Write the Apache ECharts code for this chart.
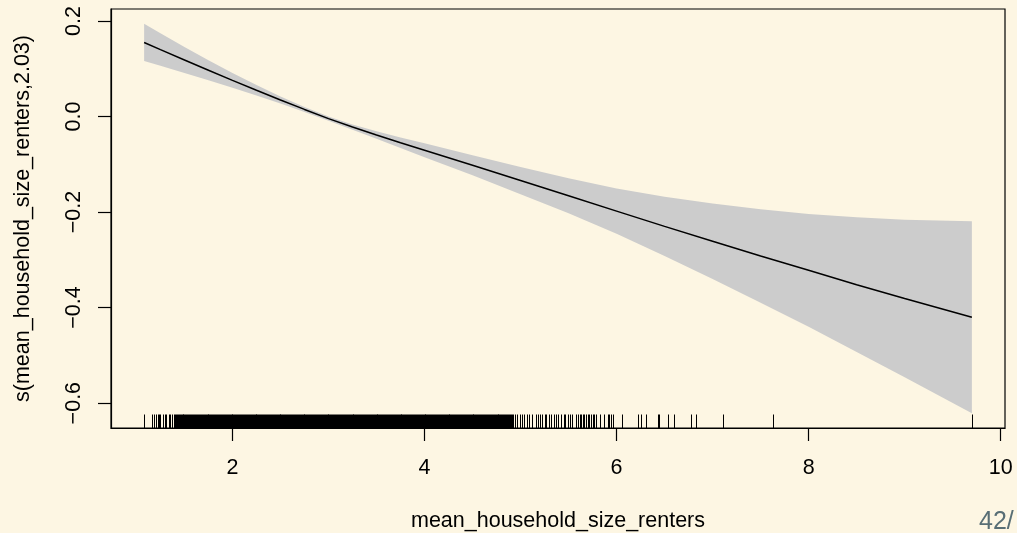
<!DOCTYPE html>
<html>
<head>
<meta charset="utf-8">
<title>mean_household_size_renters smooth</title>
<script src="https://cdn.jsdelivr.net/npm/echarts@6/dist/echarts.min.js"></script>
<style>
  html, body { margin: 0; padding: 0; background: #fdf6e3; }
  #chart { width: 1017px; height: 533px; }
</style>
</head>
<body>
<div id="chart"></div>
<script>
// Smooth term s(mean_household_size_renters, 2.03): estimate and +/- 2 SE band
const xGrid = [1.08, 1.25, 1.5, 1.75, 2.0, 2.25, 2.5, 2.75, 3.0, 3.25, 3.5, 3.75, 4.0, 4.5, 5.0, 5.5, 6.0, 6.5, 7.0, 7.5, 8.0, 8.5, 9.0, 9.7];
const fit   = [0.155, 0.140, 0.1183, 0.0968, 0.0755, 0.0548, 0.0345, 0.0148, -0.0045, -0.022, -0.0388, -0.055, -0.0707, -0.102, -0.134, -0.166, -0.198, -0.230, -0.261, -0.292, -0.322, -0.352, -0.381, -0.420];
const upper = [0.194, 0.174, 0.1453, 0.1178, 0.091, 0.0658, 0.042, 0.0201, 0.0, -0.0165, -0.031, -0.044, -0.0562, -0.081, -0.1055, -0.1295, -0.1505, -0.168, -0.182, -0.194, -0.204, -0.211, -0.216, -0.219];
const lower = [0.116, 0.106, 0.0913, 0.0758, 0.060, 0.0438, 0.027, 0.0095, -0.009, -0.0275, -0.0466, -0.066, -0.0852, -0.123, -0.1625, -0.2025, -0.2455, -0.292, -0.340, -0.390, -0.440, -0.493, -0.546, -0.621];

// Observed covariate values shown as a rug along the bottom
const rugLow = [1.08, 1.16, 1.18, 1.20, 1.22, 1.24, 1.25, 1.28, 1.30, 1.31, 1.34, 1.35, 1.37, 1.39];
const rugDense = [
  1.40,1.41,1.42,1.43,1.44,1.45,1.46,1.47,1.48,1.49,
  1.50,1.51,1.52,1.53,1.54,1.55,1.56,1.57,1.58,1.59,
  1.60,1.61,1.62,1.63,1.64,1.65,1.66,1.67,1.68,1.69,
  1.70,1.71,1.72,1.73,1.74,1.75,1.76,1.77,1.78,1.79,
  1.80,1.81,1.82,1.83,1.84,1.85,1.86,1.87,1.88,1.89,
  1.90,1.91,1.92,1.93,1.94,1.95,1.96,1.97,1.98,1.99,
  2.00,2.01,2.02,2.03,2.04,2.05,2.06,2.07,2.08,2.09,
  2.10,2.11,2.12,2.13,2.14,2.15,2.16,2.17,2.18,2.19,
  2.20,2.21,2.22,2.23,2.24,2.25,2.26,2.27,2.28,2.29,
  2.30,2.31,2.32,2.33,2.34,2.35,2.36,2.37,2.38,2.39,
  2.40,2.41,2.42,2.43,2.44,2.45,2.46,2.47,2.48,2.49,
  2.50,2.51,2.52,2.53,2.54,2.55,2.56,2.57,2.58,2.59,
  2.60,2.61,2.62,2.63,2.64,2.65,2.66,2.67,2.68,2.69,
  2.70,2.71,2.72,2.73,2.74,2.75,2.76,2.77,2.78,2.79,
  2.80,2.81,2.82,2.83,2.84,2.85,2.86,2.87,2.88,2.89,
  2.90,2.91,2.92,2.93,2.94,2.95,2.96,2.97,2.98,2.99,
  3.00,3.01,3.02,3.03,3.04,3.05,3.06,3.07,3.08,3.09,
  3.10,3.11,3.12,3.13,3.14,3.15,3.16,3.17,3.18,3.19,
  3.20,3.21,3.22,3.23,3.24,3.25,3.26,3.27,3.28,3.29,
  3.30,3.31,3.32,3.33,3.34,3.35,3.36,3.37,3.38,3.39,
  3.40,3.41,3.42,3.43,3.44,3.45,3.46,3.47,3.48,3.49,
  3.50,3.51,3.52,3.53,3.54,3.55,3.56,3.57,3.58,3.59,
  3.60,3.61,3.62,3.63,3.64,3.65,3.66,3.67,3.68,3.69,
  3.70,3.71,3.72,3.73,3.74,3.75,3.76,3.77,3.78,3.79,
  3.80,3.81,3.82,3.83,3.84,3.85,3.86,3.87,3.88,3.89,
  3.90,3.91,3.92,3.93,3.94,3.95,3.96,3.97,3.98,3.99,
  4.00,4.01,4.02,4.03,4.04,4.05,4.06,4.07,4.08,4.09,
  4.10,4.11,4.12,4.13,4.14,4.15,4.16,4.17,4.18,4.19,
  4.20,4.21,4.22,4.23,4.24,4.25,4.26,4.27,4.28,4.29,
  4.30,4.31,4.32,4.33,4.34,4.35,4.36,4.37,4.38,4.39,
  4.40,4.41,4.42,4.43,4.44,4.45,4.46,4.47,4.48,4.49,
  4.50,4.51,4.52,4.53,4.54,4.55,4.56,4.57,4.58,4.59,
  4.60,4.61,4.62,4.63,4.64,4.65,4.66,4.67,4.68,4.69,
  4.70,4.71,4.72,4.73,4.74,4.75,4.76,4.77,4.78,4.79,
  4.80,4.81,4.82,4.83,4.84,4.85,4.86,4.87,4.88,4.89,
  4.90,4.91,4.92
];
const rugHigh = [
  4.94, 4.96, 4.99, 5.01, 5.04, 5.07, 5.09, 5.12, 5.16, 5.18, 5.20, 5.22, 5.25, 5.27,
  5.30, 5.32, 5.35, 5.37, 5.39, 5.42, 5.45, 5.46, 5.49, 5.52, 5.54, 5.58,
  5.60, 5.62, 5.63, 5.65, 5.66, 5.68, 5.70, 5.71, 5.73, 5.75, 5.77, 5.79,
  5.83, 5.87, 5.91, 5.92, 5.94, 5.96, 6.06, 6.22, 6.25, 6.31, 6.43, 6.44,
  6.54, 6.60, 6.78, 6.83, 7.11, 7.63, 9.70
];

// Axis tick positions and their printed labels
const xTicks = [2, 4, 6, 8, 10];
const xTickLabels = ['2', '4', '6', '8', '10'];
const yTicks = [-0.6, -0.4, -0.2, 0.0, 0.2];
const yTickLabels = ['\u22120.6', '\u22120.4', '\u22120.2', '0.0', '0.2'];

const xRange = [0.735, 10.045];
const yRange = [-0.652, 0.225];

const FONT = '"Liberation Sans", Arial, Helvetica, sans-serif';
const TXT = 21.5;

function labelFor(ticks, labels) {
  return function (v) {
    for (let i = 0; i < ticks.length; i++) {
      if (Math.abs(ticks[i] - v) < 1e-9) return labels[i];
    }
    return '';
  };
}

const chart = echarts.init(document.getElementById('chart'), null, { renderer: 'canvas' });

const axisCommon = {
  type: 'value',
  nameLocation: 'middle',
  nameTextStyle: { fontFamily: FONT, fontSize: TXT, color: '#000' },
  axisLine: { show: true, onZero: false, lineStyle: { color: '#000', width: 1.2 } },
  splitLine: { show: false }
};

const option = {
  backgroundColor: '#fdf6e3',
  animation: false,
  textStyle: { fontFamily: FONT },
  grid: {
    left: 111, right: 12, top: 9, bottom: 105,
    outerBoundsMode: 'none',
    containLabel: false,
    show: true, borderColor: '#000', borderWidth: 1.2, backgroundColor: 'transparent'
  },
  xAxis: Object.assign({}, axisCommon, {
    min: xRange[0], max: xRange[1],
    name: 'mean_household_size_renters',
    nameGap: 82,
    axisTick: { show: true, inside: false, length: 13, customValues: xTicks, lineStyle: { color: '#000', width: 1.2 } },
    axisLabel: {
      show: true, margin: 29, customValues: xTicks,
      formatter: labelFor(xTicks, xTickLabels),
      fontFamily: FONT, fontSize: TXT, color: '#000'
    }
  }),
  yAxis: Object.assign({}, axisCommon, {
    min: yRange[0], max: yRange[1],
    name: 's(mean_household_size_renters,2.03)',
    nameGap: 77,
    axisTick: { show: true, inside: false, length: 13, customValues: yTicks, lineStyle: { color: '#000', width: 1.2 } },
    axisLabel: {
      show: true, margin: 26, rotate: 90, customValues: yTicks,
      formatter: labelFor(yTicks, yTickLabels),
      fontFamily: FONT, fontSize: TXT, color: '#000'
    }
  }),
  graphic: [{
    type: 'text',
    left: 979, top: 510,
    style: { text: '42/', fontFamily: FONT, fontSize: 25, fill: '#586e75' }
  }],
  series: [
    {
      // confidence band polygon
      type: 'custom',
      coordinateSystem: 'cartesian2d',
      data: [[xGrid[0], fit[0]]],
      z: 1,
      silent: true,
      renderItem: function (params, api) {
        const pts = [];
        for (let i = 0; i < xGrid.length; i++) pts.push(api.coord([xGrid[i], upper[i]]));
        for (let i = xGrid.length - 1; i >= 0; i--) pts.push(api.coord([xGrid[i], lower[i]]));
        return { type: 'polygon', shape: { points: pts }, style: { fill: '#cccccc', stroke: null } };
      }
    },
    {
      type: 'line',
      data: xGrid.map((x, i) => [x, fit[i]]),
      showSymbol: false,
      smooth: false,
      z: 3,
      silent: true,
      lineStyle: { color: '#000', width: 1.5 }
    },
    {
      // rug of observed values, each tick snapped to a whole pixel column
      type: 'custom',
      coordinateSystem: 'cartesian2d',
      data: rugLow.concat(rugDense, rugHigh).map(v => [v, yRange[0]]),
      z: 2,
      silent: true,
      renderItem: function (params, api) {
        const p = api.coord([api.value(0), api.value(1)]);
        const px = Math.round(p[0]) + 0.5;
        return {
          type: 'line',
          shape: { x1: px, y1: p[1], x2: px, y2: p[1] - 13.5 },
          style: { stroke: '#000', lineWidth: 1 }
        };
      }
    }
  ]
};

chart.setOption(option);
</script>
</body>
</html>
